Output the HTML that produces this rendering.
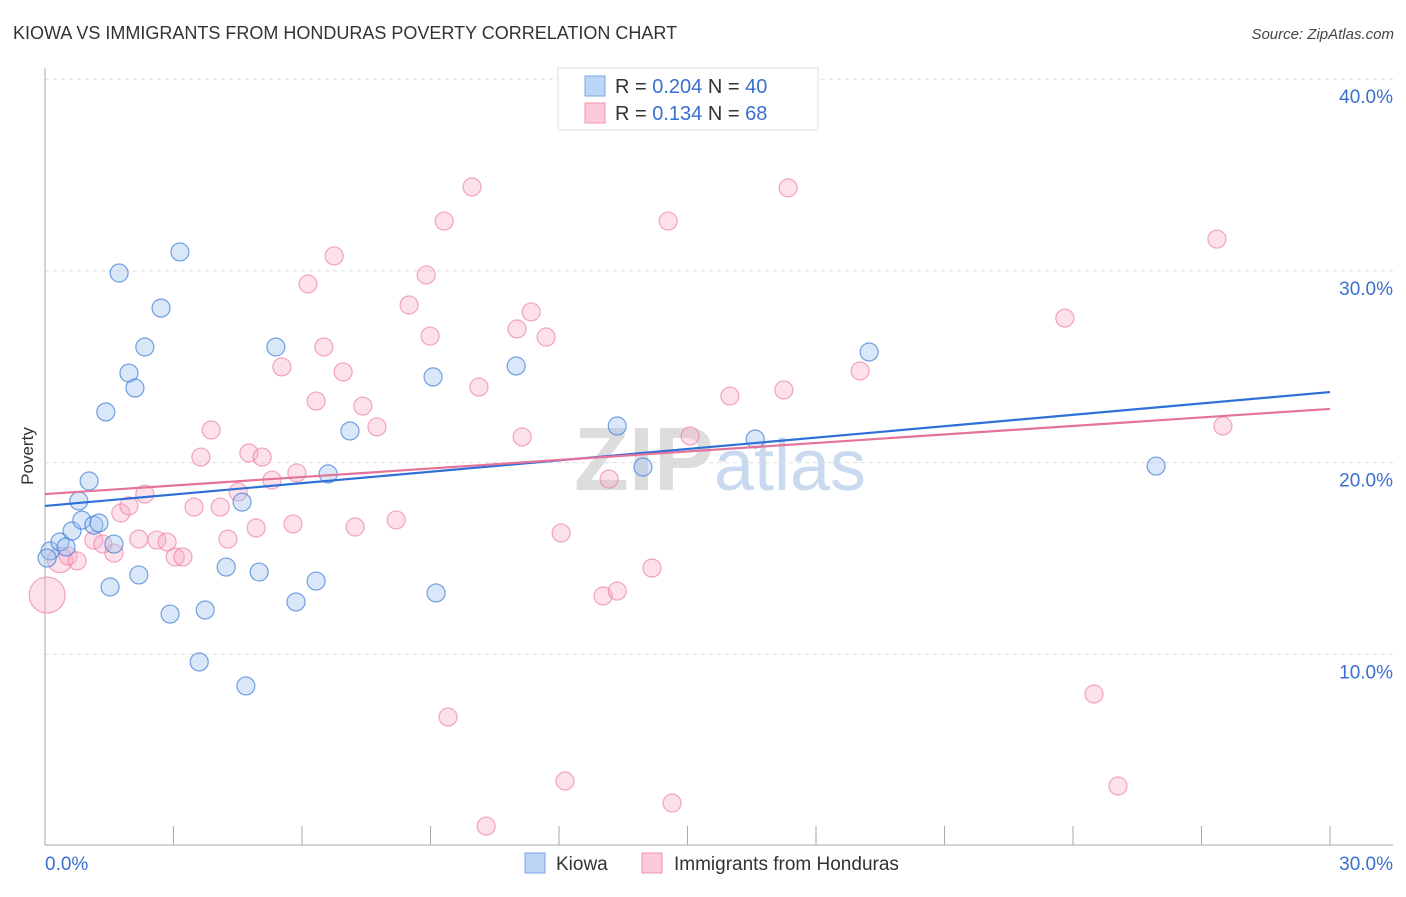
<!DOCTYPE html>
<html><head><meta charset="utf-8"><style>
body{margin:0;background:#fff;font-family:"Liberation Sans",sans-serif}
svg text{font-family:"Liberation Sans",sans-serif}
</style></head><body>
<svg id="chart" width="1406" height="892" xmlns="http://www.w3.org/2000/svg">
<text x="13" y="39" font-size="18" fill="#333">KIOWA VS IMMIGRANTS FROM HONDURAS POVERTY CORRELATION CHART</text>
<text x="1394" y="39" font-size="15" fill="#444" font-style="italic" text-anchor="end">Source: ZipAtlas.com</text>
<text x="720" y="490" font-size="90" text-anchor="middle" fill="#ddd" font-family="Liberation Serif" font-weight="bold">ZIP<tspan fill="#c9d9ef" font-family="Liberation Sans" font-weight="normal" font-size="72">atlas</tspan></text>
<g id="grid"></g>
<g id="axes"></g>
<g id="points"></g>
<g id="trends"></g>
<text transform="translate(33,456) rotate(-90)" font-size="17" fill="#333" text-anchor="middle">Poverty</text>
<g>
<rect x="558" y="68" width="260" height="62" fill="#fff" stroke="#ddd"/>
<rect x="585" y="76" width="20" height="20" fill="#bcd4f5" stroke="#7aa6e6"/>
<rect x="585" y="103" width="20" height="20" fill="#fbcbd9" stroke="#ef95b1"/>
<text x="615" y="93" font-size="20" fill="#333">R = <tspan fill="#3a6fd0">0.204</tspan>   N = <tspan fill="#3a6fd0">40</tspan></text>
<text x="615" y="120" font-size="20" fill="#333">R =  <tspan fill="#3a6fd0">0.134</tspan>   N =  <tspan fill="#3a6fd0">68</tspan></text>
</g>
<g>
<rect x="525" y="853" width="20" height="20" fill="#bcd4f5" stroke="#7aa6e6"/>
<text x="556" y="870" font-size="19" fill="#333">Kiowa</text>
<rect x="642" y="853" width="20" height="20" fill="#fbcbd9" stroke="#ef95b1"/>
<text x="674" y="870" font-size="19" fill="#333">Immigrants from Honduras</text>
</g>
</svg>
<script>
const yTicks=[10,20,30,40];
const yTickLabels=["10.0%","20.0%","30.0%","40.0%"];
const xTickLabels=["0.0%","30.0%"];
const kiowaX=[0.12,0.35,0.49,0.63,0.79,0.86,1.03,1.14,1.26,1.42,1.52,1.61,1.73,1.96,2.10,2.19,2.33,2.71,2.92,3.15,3.60,3.74,4.23,4.60,4.69,5.0,5.39,5.86,6.33,6.61,7.12,9.06,9.13,11.0,13.36,13.96,16.58,19.24,25.94,0.05];
const kiowaY=[15.39,15.86,15.6,16.43,18.0,17.0,19.04,16.74,16.85,22.64,13.51,15.75,29.89,24.67,23.89,14.14,26.03,28.06,12.1,30.99,9.6,12.31,14.55,17.94,8.35,14.29,26.03,12.73,13.82,19.41,21.65,24.47,13.2,25.04,21.91,19.77,21.23,25.77,19.82,15.02];
const hondX=[0.05,0.35,0.54,0.75,1.14,1.35,1.61,1.77,1.96,2.19,2.33,2.61,2.85,3.04,3.22,3.48,3.64,3.88,4.09,4.27,4.51,4.76,4.93,5.07,5.30,5.53,5.79,5.88,6.14,6.33,6.51,6.75,6.96,7.24,7.42,7.75,8.20,8.50,8.90,8.99,9.32,9.41,9.97,10.13,10.30,11.02,11.14,11.35,11.70,12.05,12.14,13.03,13.17,13.36,14.17,14.55,14.64,15.06,15.99,17.25,17.35,19.03,23.81,24.49,25.05,27.36,27.50];
const hondY=[13.09,14.92,15.13,14.87,15.96,15.75,15.28,17.37,17.74,16.01,18.36,15.96,15.86,15.08,15.08,17.68,20.29,21.7,17.68,16.01,18.47,20.5,16.59,20.29,19.09,24.99,16.8,19.46,29.32,23.21,26.03,30.78,24.73,16.64,22.95,21.86,17.01,28.22,29.79,26.6,32.6,6.73,34.38,23.94,1.04,26.97,21.34,27.86,26.55,16.33,3.39,13.04,19.14,13.3,14.5,32.6,2.24,21.39,23.47,23.79,34.33,24.78,27.54,7.93,3.13,31.66,21.91];
const hondSize=[2,1.4,1,1,1,1,1,1,1,1,1,1,1,1,1,1,1,1,1,1,1,1,1,1,1,1,1,1,1,1,1,1,1,1,1,1,1,1,1,1,1,1,1,1,1,1,1,1,1,1,1,1,1,1,1,1,1,1,1,1,1,1,1,1,1,1,1];
const kiowaTrend=[17.74,23.68];
const hondTrend=[18.36,22.8];
const NS="http://www.w3.org/2000/svg";
const X=v=>45+v*(1285/30);
const Y=v=>846-v*19.17;
function mk(tag,attrs,parent){const e=document.createElementNS(NS,tag);for(const k in attrs)e.setAttribute(k,attrs[k]);document.getElementById(parent).appendChild(e);return e;}
yTicks.forEach((t,i)=>{
 const g=mk('line',{x1:45,x2:1393,y1:Y(t),y2:Y(t),stroke:'#ddd','stroke-dasharray':'4,4'},'grid');
 
 
 const l=mk('text',{x:1393,y:Y(t)+24,'font-size':19,fill:'#3a6fd0','text-anchor':'end'},'grid');
 l.textContent=yTickLabels[i];
 
 
});
const ax=mk('line',{x1:45,x2:1393,y1:845,y2:845,stroke:'#aaa'},'axes');


const ay=mk('line',{x1:45,x2:45,y1:68,y2:845,stroke:'#aaa'},'axes');


for(let i=0;i<=10;i++){
 const t=mk('line',{x1:X(i*3),x2:X(i*3),y1:826,y2:845,stroke:'#aaa'},'axes');
 
 
}
const xl0=mk('text',{x:45,y:870,'font-size':19,fill:'#3a6fd0'},'axes');xl0.textContent=xTickLabels[0];


const xl1=mk('text',{x:1393,y:870,'font-size':19,fill:'#3a6fd0','text-anchor':'end'},'axes');xl1.textContent=xTickLabels[1];


hondX.forEach((v,i)=>{
 const c=mk('circle',{cx:X(v),cy:Y(hondY[i]),r:9*hondSize[i],fill:'rgba(248,170,195,0.35)',stroke:'rgba(235,130,165,0.7)','stroke-width':1.2},'points');
 
 
});
kiowaX.forEach((v,i)=>{
 const c=mk('circle',{cx:X(v),cy:Y(kiowaY[i]),r:9,fill:'rgba(160,195,240,0.4)',stroke:'rgba(70,130,215,0.75)','stroke-width':1.2},'points');
 
 
});
const tk=mk('line',{x1:X(0),x2:X(30),y1:Y(kiowaTrend[0]),y2:Y(kiowaTrend[1]),stroke:'#2e6fd8','stroke-width':2.2},'trends');


const th=mk('line',{x1:X(0),x2:X(30),y1:Y(hondTrend[0]),y2:Y(hondTrend[1]),stroke:'#e4739a','stroke-width':2.2},'trends');


</script>
</body></html>
